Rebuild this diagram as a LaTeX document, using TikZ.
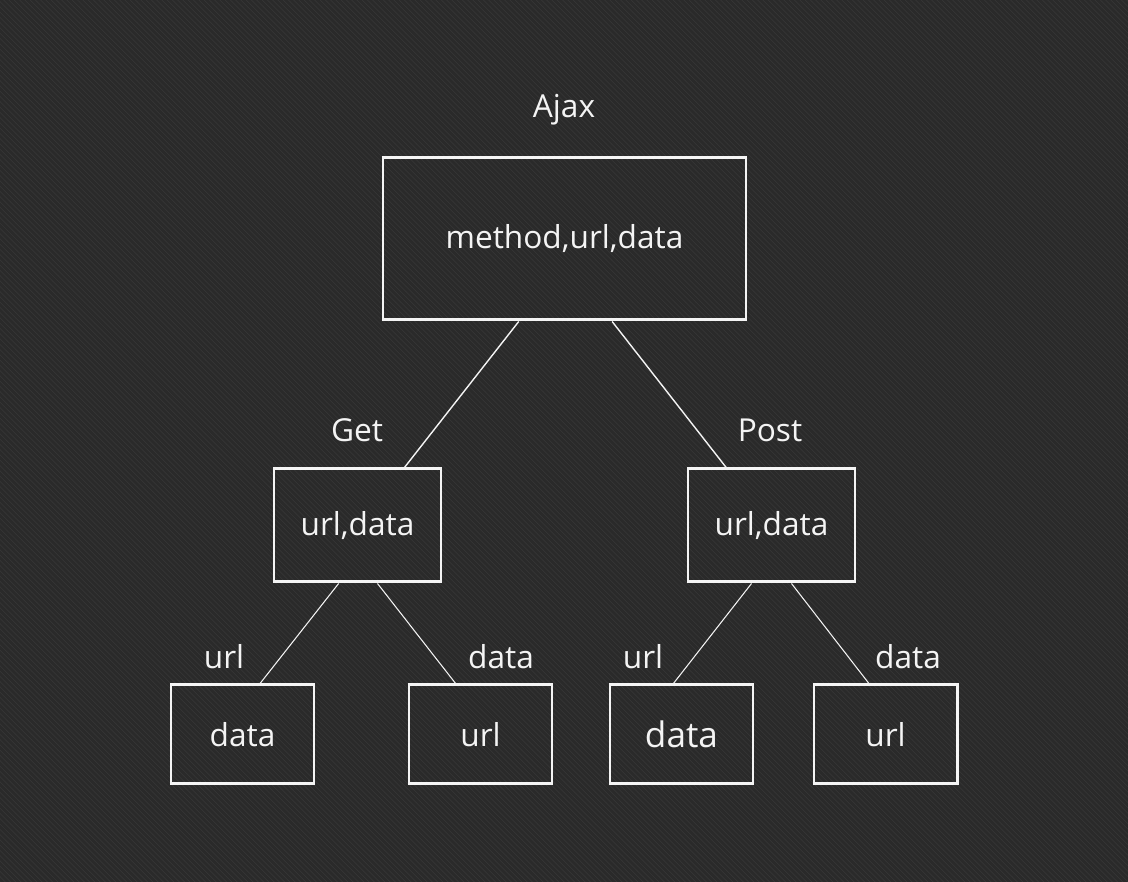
\documentclass[tikz,border=0pt]{standalone}
\usepackage{fontspec}
\setmainfont{Open Sans}
\usetikzlibrary{patterns}
\definecolor{bgdark}{HTML}{2A2A2A}
\definecolor{bgstripe}{HTML}{363636}
\definecolor{inkwhite}{HTML}{F4F4F4}
\begin{document}
\begin{tikzpicture}[
  box/.style={draw=inkwhite, line width=1.7pt, text=inkwhite, font=\fontsize{18}{20}\selectfont, inner sep=0pt},
  bigbox/.style={box, minimum width=7.26cm, minimum height=3.24cm},
  midbox/.style={box, minimum width=3.34cm, minimum height=2.26cm},
  leafbox/.style={box, minimum width=2.86cm, minimum height=1.98cm},
  tag/.style={text=inkwhite, font=\fontsize{18}{20}\selectfont, inner sep=0pt},
  edge/.style={draw=inkwhite, line width=0.8pt},
  twig/.style={draw=inkwhite, line width=0.6pt}
]
% background
\fill[bgdark] (0,0) rectangle (22.56,17.64);
\fill[pattern=north west lines, pattern color=bgstripe] (0,0) rectangle (22.56,17.64);

% boxes
\node[bigbox] (ajax) at (11.29,12.86) {method,url,data};
\node[midbox] (get) at (7.15,7.13) {url,data};
\node[midbox] (post) at (15.43,7.13) {url,data};
\node[leafbox] (getdata) at (4.85,2.95) {data};
\node[leafbox] (geturl) at (9.61,2.95) {url};
\node[leafbox, font=\fontsize{20}{22}\selectfont] (postdata) at (13.63,2.95) {data};
\node[leafbox] (posturl) at (17.71,2.95) {url};

% labels
\node[tag] (ajaxtag) at (11.28,15.44) {Ajax};
\node[tag] (gettag) at (7.14,9.04) {Get};
\node[tag] (posttag) at (15.40,9.04) {Post};
\node[tag] (gdtag) at (4.48,4.50) {url};
\node[tag] (gutag) at (10.02,4.50) {data};
\node[tag] (pdtag) at (12.86,4.50) {url};
\node[tag] (putag) at (18.16,4.50) {data};

% tree
\draw[edge] (ajax.-119.3) -- (get.51.2);
\draw[edge] (ajax.-60.7) -- (post.128.8);
\draw[twig] (get.-108.1) -- (getdata.71.6);
\draw[twig] (get.-71.0) -- (geturl.116.3);
\draw[twig] (post.-109.0) -- (postdata.99.8);
\draw[twig] (post.-71.0) -- (posturl.108.4);
\end{tikzpicture}
\end{document}
